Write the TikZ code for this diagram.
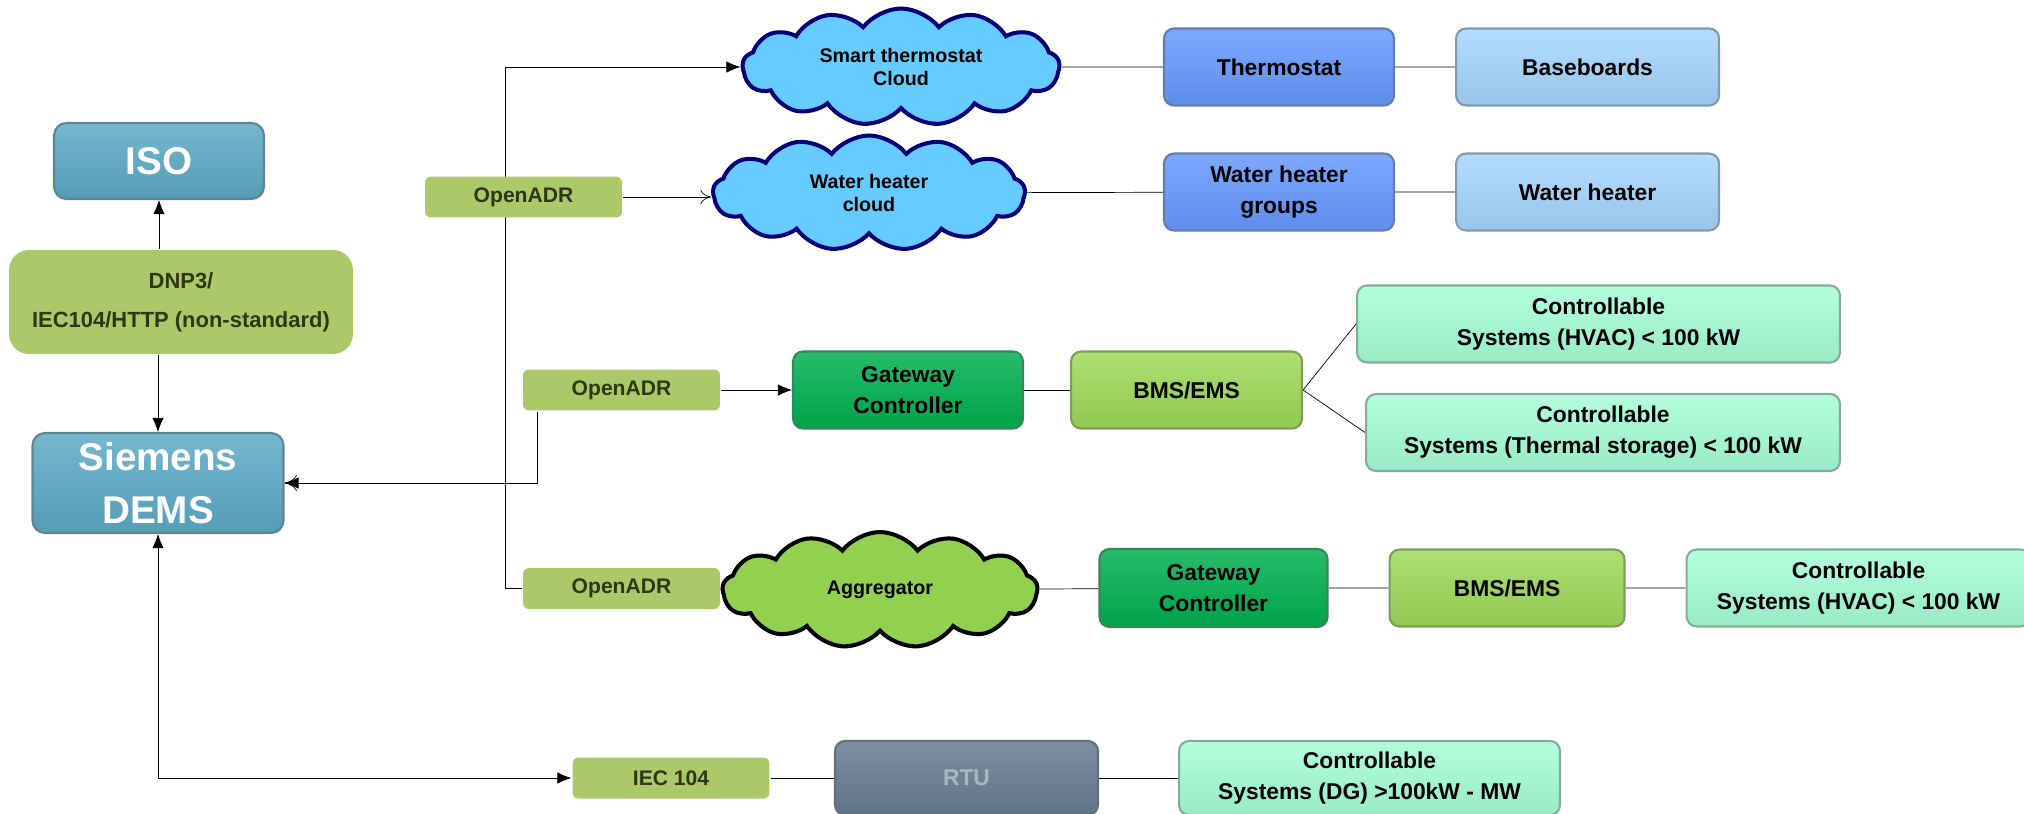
\documentclass[tikz,border=0pt]{standalone}
\usepackage{fontspec}
\setmainfont{Liberation Sans}
\usetikzlibrary{arrows.meta,positioning,shapes.symbols,backgrounds}
\definecolor{isoblue}{RGB}{92,170,198}
\definecolor{adrgreen}{RGB}{172,201,106}
\definecolor{adrtext}{RGB}{45,56,20}
\definecolor{cloudblue}{RGB}{102,204,255}
\definecolor{cloudline}{RGB}{0,0,120}
\definecolor{agggreen}{RGB}{146,208,80}
\definecolor{devblue}{RGB}{102,153,255}
\definecolor{loadblue}{RGB}{166,214,255}
\definecolor{gwgreen}{RGB}{0,176,80}
\definecolor{bmsgreen}{RGB}{158,218,88}
\definecolor{ctrlmint}{RGB}{166,255,214}
\definecolor{rtugray}{RGB}{102,125,145}
\definecolor{rtutext}{RGB}{172,182,192}
\newcommand{\boxfont}{\fontsize{13}{17.5}\selectfont\bfseries}

\begin{document}
\begin{tikzpicture}[x=0.02cm,y=-0.02cm,>={Latex[length=8pt,width=6.5pt]},line width=1.3pt,
  box/.style={rounded corners=0.2cm,draw=#1!60!black!80!white,top color=#1!85!white,middle color=#1,bottom color=#1!92!black,line width=1.2pt,minimum height=1.54cm,align=center,font=\boxfont},
  proto/.style={rounded corners=0.12cm,fill=adrgreen,text=adrtext,minimum width=3.94cm,minimum height=0.82cm,font=\fontsize{12}{14}\selectfont\bfseries},
  sky/.style={cloud,cloud puffs=13,cloud puff arc=105,cloud ignores aspect,draw=cloudline,fill=cloudblue,line width=2.3pt,align=center,inner sep=0pt,font=\fontsize{11.2}{13}\selectfont\bfseries},
  big/.style={box=isoblue,text=white,rounded corners=0.25cm,inner sep=0pt,font=\fontsize{22}{30}\selectfont\bfseries}]
  \useasboundingbox (0,0) rectangle (2024,814);

  \node[big,minimum width=4.2cm,minimum height=1.52cm] (iso) at (159,161) {ISO};
  \node[proto,rounded corners=0.4cm,minimum width=6.88cm,minimum height=2.08cm,align=center,font=\fontsize{12.5}{22}\selectfont\bfseries] (dnp) at (181,302) {DNP3/\\IEC104/HTTP (non-standard)};
  \node[big,minimum width=5.02cm,minimum height=2cm] (dems) at (158,483) {Siemens\\DEMS};

  \node[proto] (adrA) at (523.5,197) {OpenADR};
  \node[proto] (adrB) at (621.5,390) {OpenADR};
  \node[proto] (adrC) at (621.5,588.5) {OpenADR};
  \node[proto] (iec) at (671,778) {IEC 104};

  \node[sky,minimum width=6.34cm,minimum height=2.34cm] (cloudA) at (901,67) {Smart thermostat\\Cloud};
  \node[sky,minimum width=6.24cm,minimum height=2.3cm] (cloudB) at (869,193) {Water heater\\cloud};
  \node[sky,draw=black,fill=agggreen,minimum width=6.3cm,minimum height=2.32cm] (agg) at (880,590) {Aggregator};

  \node[box=devblue,minimum width=4.6cm] (thermo) at (1279,67) {Thermostat};
  \node[box=loadblue,minimum width=5.26cm,right=1.2cm of thermo] (baseb) {Baseboards};
  \node[box=devblue,minimum width=4.6cm] (whg) at (1279,192) {Water heater\\groups};
  \node[box=loadblue,minimum width=5.26cm,right=1.2cm of whg] (wheat) {Water heater};

  \node[box=gwgreen,minimum width=4.6cm] (gwA) at (908,390) {Gateway\\Controller};
  \node[box=bmsgreen,minimum width=4.62cm,right=0.92cm of gwA] (bmsA) {BMS/EMS};
  \node[box=ctrlmint,minimum width=9.66cm] (hvacA) at (1598.5,324) {Controllable\\Systems (HVAC) < 100 kW};
  \node[box=ctrlmint,minimum width=9.48cm] (store) at (1603,432.5) {Controllable\\Systems (Thermal storage) < 100 kW};

  \node[box=gwgreen,minimum width=4.56cm,minimum height=1.56cm] (gwB) at (1213.5,588) {Gateway\\Controller};
  \node[box=bmsgreen,minimum width=4.7cm,right=1.2cm of gwB] (bmsB) {BMS/EMS};
  \node[box=ctrlmint,minimum width=6.88cm,right=1.2cm of bmsB] (hvacB) {Controllable\\Systems (HVAC) < 100 kW};

  \node[box=rtugray,text=rtutext,minimum width=5.26cm,minimum height=1.48cm] (rtu) at (966.5,778) {RTU};
  \node[box=ctrlmint,minimum width=7.62cm,minimum height=1.48cm,right=1.58cm of rtu] (dg) {Controllable\\Systems (DG) >100kW - MW};

  \coordinate (split) at (505,483);

  \begin{scope}[on background layer]
    \draw[->] (dnp.north -| iso) -- (iso.south);
    \draw[->] (dnp.south -| dems) -- (dems.north);
    \draw[<->] (dems.east) -- (split) |- (cloudA.west);
    \draw (split) |- (adrC.west);
    \draw[-{To[length=7pt,width=9pt]}] ([xshift=0.3cm]adrB.south west) |- (dems.east);
    \draw[-{To[length=6pt,width=8pt]}] (adrA.east) -- (adrA.east -| cloudB.west);
    \draw[->] (adrB) -- (gwA);
    \draw (cloudA) -- (thermo) -- (baseb);
    \draw (cloudB) -- (whg) -- (wheat);
    \draw (gwA) -- (bmsA);
    \draw (bmsA.east) -- (hvacA.west);
    \draw (bmsA.east) -- (store.west);
    \draw (adrC) -- (agg) -- (gwB) -- (bmsB) -- (hvacB);
    \draw[<->] (dems) |- (iec);
    \draw (iec) -- (rtu) -- (dg);
  \end{scope}
\end{tikzpicture}
\end{document}
